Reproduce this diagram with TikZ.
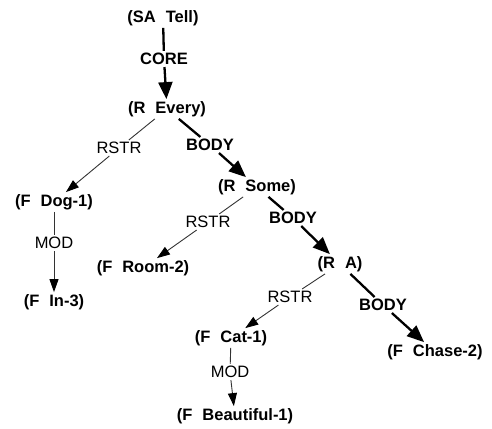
\documentclass[tikz,border=0pt]{standalone}
\usepackage{fontspec}
\setmainfont{Liberation Sans}
\usetikzlibrary{arrows.meta}

% a bracketed term such as (R  Every)
\newcommand\qterm[2]{(#1\hspace{10pt}#2)}

\begin{document}
\begin{tikzpicture}[x=1pt,y=-1pt,
  term/.style={font=\fontsize{16.5}{19}\selectfont\bfseries, inner sep=2pt},
  rel/.style={font=\fontsize{16.5}{19}\selectfont, inner sep=2pt},
  relb/.style={font=\fontsize{16.5}{19}\selectfont\bfseries, inner sep=2pt},
  thin link/.style={draw=black!80, line width=0.9pt},
  thick link/.style={draw=black, line width=2.3pt},
  thin arrow/.style={thin link, -{Triangle[length=13pt,width=9pt,color=black]}},
  thick arrow/.style={thick link, -{Triangle[length=17pt,width=14pt]}},
]
\useasboundingbox (0,0) rectangle (492,428);

% terms
\node[term] (sa)    at (163,18)  {\qterm{SA}{Tell}};
\node[term] (every) at (167,109) {\qterm{R}{Every}};
\node[term] (dog)   at (54,202)  {\qterm{F}{Dog-1}};
\node[term] (in3)   at (54,302)  {\qterm{F}{In-3}};
\node[term] (some)  at (257,187) {\qterm{R}{Some}};
\node[term] (room)  at (143,268) {\qterm{F}{Room-2}};
\node[term] (ra)    at (340,264) {\qterm{R}{A}};
\node[term] (cat)   at (231,338) {\qterm{F}{Cat-1}};
\node[term] (beaut) at (235,416) {\qterm{F}{Beautiful-1}};
\node[term] (chase) at (435,352) {\qterm{F}{Chase-2}};

% relation labels
\node[relb] (core)  at (164,59)  {CORE};
\node[rel]  (rstr1) at (119,148) {RSTR};
\node[relb] (body1) at (210,145) {BODY};
\node[rel]  (mod1)  at (54,243)  {MOD};
\node[rel]  (rstr2) at (208,222) {RSTR};
\node[relb] (body2) at (293,218) {BODY};
\node[rel]  (rstr3) at (290,297) {RSTR};
\node[relb] (body3) at (383,305) {BODY};
\node[rel]  (mod2)  at (230,372) {MOD};

% connectors
\draw[thick link]  (sa) -- (core);
\draw[thick arrow] (core) -- (every);
\draw[thin link]   (every) -- (rstr1);
\draw[thin arrow]  (rstr1) -- (dog);
\draw[thick link]  (every) -- (body1);
\draw[thick arrow] (body1) -- (some);
\draw[thin link]   (dog) -- (mod1);
\draw[thin arrow]  (mod1) -- (in3);
\draw[thin link]   (some) -- (rstr2);
\draw[thin arrow]  (rstr2) -- (room);
\draw[thick link]  (some) -- (body2);
\draw[thick arrow] (body2) -- (ra);
\draw[thin link]   (ra) -- (rstr3);
\draw[thin arrow]  (rstr3) -- (cat);
\draw[thick link]  (ra) -- (body3);
\draw[thick arrow] (body3) -- (chase);
\draw[thin link]   (cat) -- (mod2);
\draw[thin arrow]  (mod2) -- (beaut);
\end{tikzpicture}
\end{document}
